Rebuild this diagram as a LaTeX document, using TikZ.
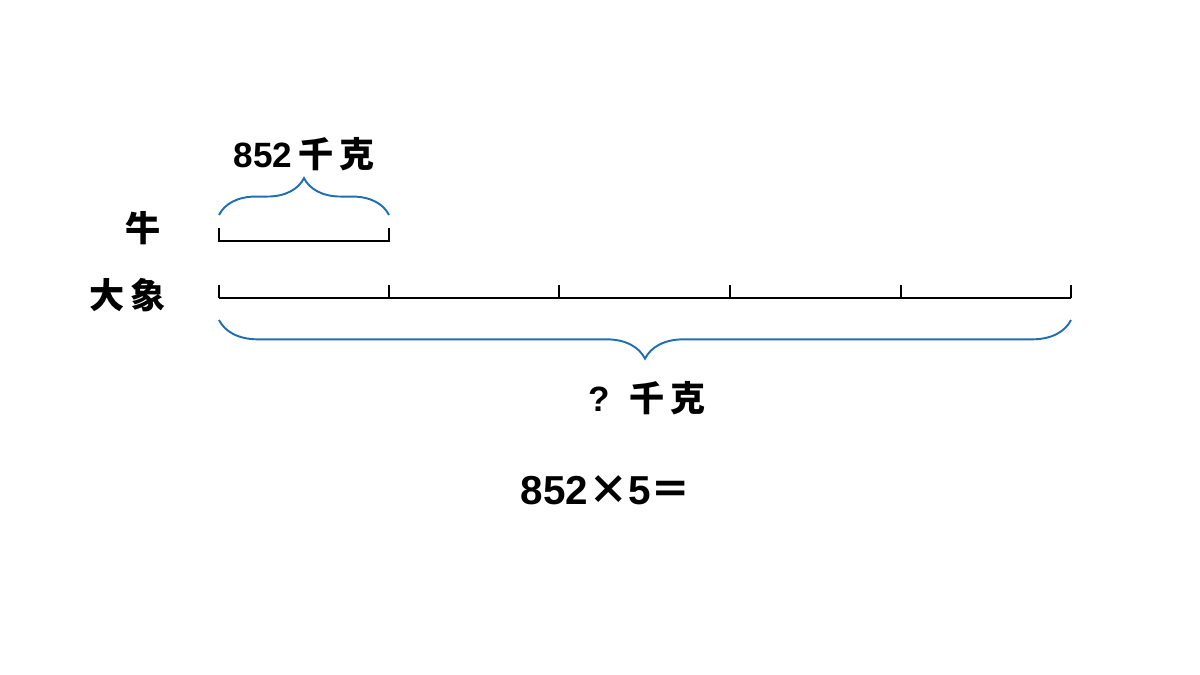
\documentclass[tikz,border=0pt]{standalone}
\usepackage{fontspec}
\setmainfont{Liberation Sans}
\newfontfamily\cjk{Noto Sans CJK SC}
\usetikzlibrary{decorations.pathreplacing}
\definecolor{braceblue}{RGB}{30,110,180}

\begin{document}
\begin{tikzpicture}[x=0.02cm, y=-0.02cm,
    segline/.style={line width=0.85pt, black},
    curly/.style={line width=1.1pt, braceblue, decorate,
      decoration={brace, amplitude=#1, aspect=0.5}},
    curly/.default=12pt,
    lbl/.style={font=\bfseries\fontsize{20pt}{22pt}\selectfont, inner sep=0pt}]
    \useasboundingbox (0,0) rectangle (1200,675);
    % row names
    \node[lbl] (cow) at (143,228) {\cjk 牛};
    \node[lbl] (elephant) at (128,295) {\cjk 大\,象};
    % cow segment
    \coordinate (c0) at (219,241);
    \coordinate (c1) at (389,241);
    \draw[segline] ([yshift=7.4pt]c0) -- (c0) -- (c1) -- ([yshift=7.4pt]c1);
    % elephant segment, five parts
    \foreach \i/\x in {0/219, 1/389, 2/559, 3/730, 4/901, 5/1071}
        \coordinate (e\i) at (\x,298);
    \draw[segline] (e0) -- (e5);
    \foreach \i in {0,...,5}
        \draw[segline] (e\i) -- ([yshift=7.4pt]e\i);
    % braces
    \coordinate (tb0) at (219,215);
    \coordinate (tb1) at (389,215);
    \draw[curly=21pt] (tb0) -- (tb1);
    \node[lbl] (cowkg) at (304,154) {852\,{\cjk 千\,克}};
    \coordinate (bb0) at (219,320);
    \coordinate (bb1) at (1071,320);
    \draw[curly=22pt] (bb1) -- (bb0);
    \node[lbl] (totalkg) at (647,398) {?\ \ {\cjk 千\,克}};
    % equation
    \node[font=\bfseries\fontsize{23pt}{25pt}\selectfont, inner sep=0pt] (eq) at (606,490) {852{\cjk ×}5{\cjk ＝}};
\end{tikzpicture}
\end{document}
